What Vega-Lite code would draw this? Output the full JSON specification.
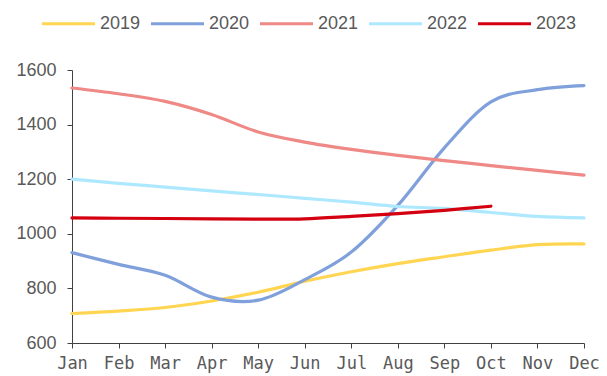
{
  "$schema": "https://vega.github.io/schema/vega-lite/v6.json",
  "width": 512,
  "height": 273,
  "autosize": {"type": "none"},
  "padding": {"left": 72, "top": 70, "right": 23, "bottom": 33},
  "background": "white",
  "config": {"view": {"stroke": null}},
  "data": {
    "values": [
      {"month": "Jan", "year": "2019", "value": 708},
      {"month": "Feb", "year": "2019", "value": 717},
      {"month": "Mar", "year": "2019", "value": 730},
      {"month": "Apr", "year": "2019", "value": 754},
      {"month": "May", "year": "2019", "value": 786},
      {"month": "Jun", "year": "2019", "value": 826},
      {"month": "Jul", "year": "2019", "value": 861},
      {"month": "Aug", "year": "2019", "value": 891},
      {"month": "Sep", "year": "2019", "value": 916},
      {"month": "Oct", "year": "2019", "value": 940},
      {"month": "Nov", "year": "2019", "value": 960},
      {"month": "Dec", "year": "2019", "value": 963},

      {"month": "Jan", "year": "2020", "value": 931},
      {"month": "Feb", "year": "2020", "value": 888},
      {"month": "Mar", "year": "2020", "value": 848},
      {"month": "Apr", "year": "2020", "value": 768},
      {"month": "May", "year": "2020", "value": 757},
      {"month": "Jun", "year": "2020", "value": 832},
      {"month": "Jul", "year": "2020", "value": 933},
      {"month": "Aug", "year": "2020", "value": 1104},
      {"month": "Sep", "year": "2020", "value": 1315},
      {"month": "Oct", "year": "2020", "value": 1483},
      {"month": "Nov", "year": "2020", "value": 1528},
      {"month": "Dec", "year": "2020", "value": 1543},

      {"month": "Jan", "year": "2021", "value": 1534},
      {"month": "Feb", "year": "2021", "value": 1513},
      {"month": "Mar", "year": "2021", "value": 1485},
      {"month": "Apr", "year": "2021", "value": 1437},
      {"month": "May", "year": "2021", "value": 1373},
      {"month": "Jun", "year": "2021", "value": 1336},
      {"month": "Jul", "year": "2021", "value": 1309},
      {"month": "Aug", "year": "2021", "value": 1287},
      {"month": "Sep", "year": "2021", "value": 1268},
      {"month": "Oct", "year": "2021", "value": 1250},
      {"month": "Nov", "year": "2021", "value": 1232},
      {"month": "Dec", "year": "2021", "value": 1215},

      {"month": "Jan", "year": "2022", "value": 1200},
      {"month": "Feb", "year": "2022", "value": 1185},
      {"month": "Mar", "year": "2022", "value": 1171},
      {"month": "Apr", "year": "2022", "value": 1157},
      {"month": "May", "year": "2022", "value": 1144},
      {"month": "Jun", "year": "2022", "value": 1130},
      {"month": "Jul", "year": "2022", "value": 1116},
      {"month": "Aug", "year": "2022", "value": 1100},
      {"month": "Sep", "year": "2022", "value": 1093},
      {"month": "Oct", "year": "2022", "value": 1078},
      {"month": "Nov", "year": "2022", "value": 1064},
      {"month": "Dec", "year": "2022", "value": 1058},

      {"month": "Jan", "year": "2023", "value": 1058},
      {"month": "Feb", "year": "2023", "value": 1057},
      {"month": "Mar", "year": "2023", "value": 1056},
      {"month": "Apr", "year": "2023", "value": 1055},
      {"month": "May", "year": "2023", "value": 1054},
      {"month": "Jun", "year": "2023", "value": 1055},
      {"month": "Jul", "year": "2023", "value": 1064},
      {"month": "Aug", "year": "2023", "value": 1074},
      {"month": "Sep", "year": "2023", "value": 1086},
      {"month": "Oct", "year": "2023", "value": 1101}
    ]
  },
  "mark": {"type": "line", "interpolate": "cardinal", "strokeCap": "round"},
  "encoding": {
    "x": {
      "field": "month",
      "type": "ordinal",
      "sort": ["Jan","Feb","Mar","Apr","May","Jun","Jul","Aug","Sep","Oct","Nov","Dec"],
      "scale": {"type": "point", "padding": 0},
      "axis": {
        "title": null,
        "labelAngle": 0,
        "labelFont": "DejaVu Sans Mono",
        "labelFontSize": 17,
        "labelColor": "#595959",
        "labelPadding": 7,
        "tickSize": 5,
        "tickColor": "#404040",
        "domainColor": "#404040",
        "grid": false
      }
    },
    "y": {
      "field": "value",
      "type": "quantitative",
      "scale": {"domain": [600, 1600], "nice": false, "zero": false},
      "axis": {
        "title": null,
        "values": [600, 800, 1000, 1200, 1400, 1600],
        "format": "d",
        "labelFont": "Liberation Sans",
        "labelFontSize": 18,
        "labelColor": "#595959",
        "labelPadding": 11,
        "tickSize": 5,
        "tickColor": "#404040",
        "domainColor": "#404040",
        "grid": false
      }
    },
    "color": {
      "field": "year",
      "type": "nominal",
      "scale": {
        "domain": ["2019", "2020", "2021", "2022", "2023"],
        "range": ["#FFD552", "#7FA0DB", "#EE8986", "#AEE8FF", "#D40010"]
      },
      "legend": {
        "title": null,
        "orient": "none",
        "direction": "horizontal",
        "legendX": -32,
        "legendY": -75,
        "symbolType": "stroke",
        "symbolSize": 2809,
        "labelFont": "Liberation Sans",
        "labelFontSize": 18,
        "labelColor": "#595959",
        "labelOffset": 3,
        "columnPadding": 3
      }
    },
    "strokeWidth": {
      "field": "year",
      "type": "nominal",
      "scale": {
        "domain": ["2019", "2020", "2021", "2022", "2023"],
        "range": [3.2, 3.2, 3.2, 3.2, 4.6]
      },
      "legend": {
        "title": null,
        "orient": "none",
        "direction": "horizontal",
        "legendX": -32,
        "legendY": -75,
        "symbolType": "stroke",
        "symbolSize": 2809,
        "labelFont": "Liberation Sans",
        "labelFontSize": 18,
        "labelColor": "#595959",
        "labelOffset": 3,
        "columnPadding": 3
      }
    }
  }
}
